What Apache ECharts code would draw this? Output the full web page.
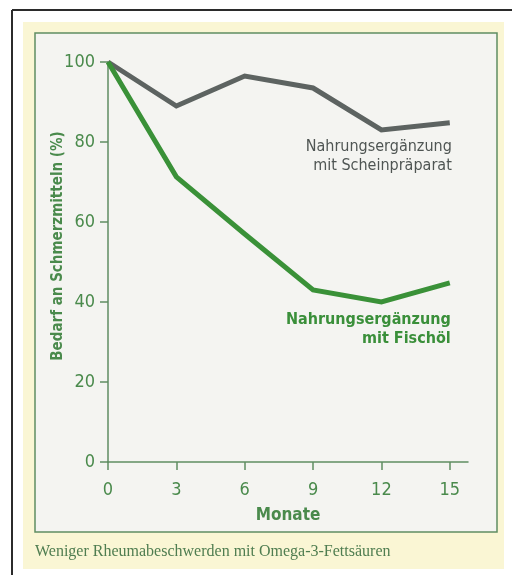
<!DOCTYPE html>
<html>
<head>
<meta charset="utf-8">
<script src="https://cdn.jsdelivr.net/npm/echarts@6/dist/echarts.min.js"></script>
<style>
  html, body { margin: 0; padding: 0; background: #ffffff; }
  #chart { width: 512px; height: 575px; }
</style>
</head>
<body>
<div id="chart"></div>
<script>
// Months since start of supplementation
const months = [0, 3, 6, 9, 12, 15];
// Need for painkillers (%) per group
const placebo = [100, 89, 96.5, 93.5, 83, 84.8];
const fishOil = [100, 71.3, 57, 43, 40, 44.8];
const xTicks = [0, 3, 6, 9, 12, 15];
const yTicks = [0, 20, 40, 60, 80, 100];

const placeboName = 'Nahrungsergänzung\nmit Scheinpräparat';
const fishOilName = 'Nahrungsergänzung\nmit Fischöl';
const caption = 'Weniger Rheumabeschwerden mit Omega-3-Fettsäuren';

const condensed = '"DejaVu Sans Condensed", sans-serif';
const green = '#3a9138';
const gray = '#5d6361';
const axisGreen = '#5f8d62';
const textGreen = '#4a8a4c';

const pairs = (vals) => months.map((m, i) => [m, vals[i]]);

const chart = echarts.init(document.getElementById('chart'), null, { renderer: 'canvas' });

chart.setOption({
  animation: false,
  backgroundColor: '#ffffff',
  graphic: [
    // outer frame
    { type: 'line', shape: { x1: 12, y1: 10, x2: 512, y2: 10 }, style: { stroke: '#2b2b2b', lineWidth: 2 }, z: -10 },
    { type: 'line', shape: { x1: 12, y1: 10, x2: 12, y2: 575 }, style: { stroke: '#2b2b2b', lineWidth: 2 }, z: -10 },
    // cream panel
    { type: 'rect', shape: { x: 23, y: 22, width: 481, height: 547 }, style: { fill: '#faf6d4' }, z: -9 },
    // plot box
    { type: 'rect', shape: { x: 35, y: 33, width: 462, height: 499 }, style: { fill: '#f4f4f1', stroke: '#5f8d62', lineWidth: 1.5 }, z: -8 },
    // caption
    { type: 'text', x: 35, y: 552, style: { text: caption, fill: '#4f7d50', font: '16px "Liberation Serif", "DejaVu Serif", serif', verticalAlign: 'middle' } }
  ],
  grid: { left: 108, right: 44, top: 62, bottom: 113, containLabel: false },
  xAxis: {
    type: 'value', min: 0, max: 15.8, interval: 3,
    name: 'Monate', nameLocation: 'middle', nameGap: 45, nameMoveOverlap: false,
    nameTextStyle: { color: textGreen, fontFamily: condensed, fontSize: 17, fontWeight: 'bold' },
    axisLine: { show: true, lineStyle: { color: axisGreen, width: 1.5 } },
    axisTick: { show: true, length: 8, inside: false, customValues: xTicks, lineStyle: { color: axisGreen, width: 1.5 } },
    axisLabel: { customValues: xTicks, color: textGreen, fontFamily: condensed, fontSize: 18, margin: 19 },
    splitLine: { show: false }
  },
  yAxis: {
    type: 'value', min: 0, max: 100, interval: 20,
    name: 'Bedarf an Schmerzmitteln (%)', nameLocation: 'middle', nameGap: 42, nameRotate: 90, nameMoveOverlap: false,
    nameTextStyle: { color: textGreen, fontFamily: condensed, fontSize: 15, fontWeight: 'bold', padding: [0, 0, 0, 32] },
    axisLine: { show: true, lineStyle: { color: axisGreen, width: 1.5 } },
    axisTick: { show: true, length: 8, customValues: yTicks, lineStyle: { color: axisGreen, width: 1.5 } },
    axisLabel: { customValues: yTicks, color: textGreen, fontFamily: condensed, fontSize: 18, margin: 13 },
    splitLine: { show: false }
  },
  series: [
    {
      name: 'Scheinpräparat', type: 'line', data: pairs(placebo), symbol: 'none',
      lineStyle: { color: gray, width: 5, join: 'miter' }, z: 3,
      endLabel: {
        show: true, formatter: placeboName, color: '#4f5553',
        fontFamily: condensed, fontSize: 16, lineHeight: 19, align: 'right', verticalAlign: 'top',
        offset: [-6, 15]
      }
    },
    {
      name: 'Fischöl', type: 'line', data: pairs(fishOil), symbol: 'none',
      lineStyle: { color: green, width: 5, join: 'miter' }, z: 4,
      endLabel: {
        show: true, formatter: fishOilName, color: '#3a8f3a',
        fontFamily: condensed, fontSize: 16, lineHeight: 19, fontWeight: 'bold', align: 'right', verticalAlign: 'top',
        offset: [-7, 28]
      }
    }
  ]
});
</script>
</body>
</html>
